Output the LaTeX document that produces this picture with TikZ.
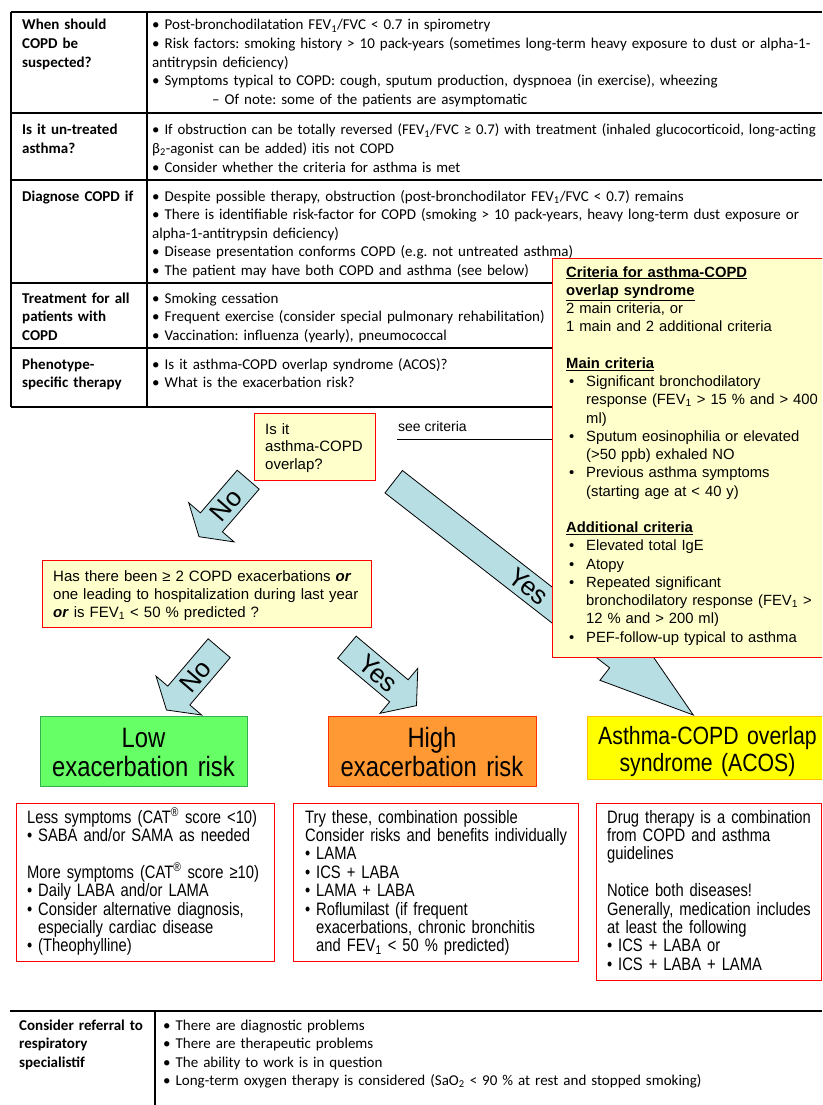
\documentclass[tikz,border=0pt]{standalone}
\usepackage{fontspec}
\setmainfont{Liberation Sans}
\newfontfamily\tabfont{Carlito}
\newfontfamily\narrowfont[FakeStretch=0.85]{Liberation Sans}
\newfontfamily\narrowerfont[FakeStretch=0.82]{Liberation Sans}
\usetikzlibrary{calc}
\definecolor{qyellow}{HTML}{FFFFCC}
\definecolor{arrowblue}{HTML}{B7DEE3}
\definecolor{lowgreen}{HTML}{66FF66}
\definecolor{lowborder}{HTML}{33B050}
\definecolor{highorange}{HTML}{FF9933}
\definecolor{highborder}{HTML}{FF3300}
\definecolor{acosyellow}{HTML}{FFFF00}
\definecolor{acosborder}{HTML}{FFC000}
\definecolor{boxred}{HTML}{FF0000}
\newcommand{\bbul}{\makebox[11pt][l]{•}}
\newcommand{\bind}{\hspace*{11pt}}
\newcommand{\cbul}{\makebox[20pt][l]{\hspace*{3pt}•}}
\newcommand{\cind}{\hspace*{20pt}}
\newcommand{\blockarrow}[6]{%
  \coordinate (#2-neck) at ($(#2)!#5!(#1)$);
  \filldraw[barrow] ($(#1)!#3!90:(#2)$) -- ($(#2-neck)!#3!90:(#2)$) -- ($(#2-neck)!#4!90:(#2)$) -- (#2)
     -- ($(#2-neck)!#4!-90:(#2)$) -- ($(#2-neck)!#3!-90:(#2)$) -- ($(#1)!#3!-90:(#2)$) -- cycle;
  \path (#1) -- (#2) node[alabel, pos=0.45] (#2-label) {#6};
}
\tikzset{
  tabline/.style={line width=1.4pt, black},
  tabhead/.style={anchor=base west, inner sep=0pt, text width=128pt, align=left, font=\tabfont\bfseries\fontsize{15}{18.6}\selectfont},
  tabbody/.style={anchor=base west, inner sep=0pt, text width=700pt, align=left, font=\tabfont\fontsize{15}{18.6}\selectfont},
  qbox/.style={draw=boxred, fill=qyellow, line width=1pt, inner sep=0pt, anchor=north west},
  wbox/.style={draw=boxred, fill=white, line width=1pt, inner sep=0pt, anchor=north west},
  qtext/.style={anchor=base west, inner sep=0pt, align=left, text width=330pt, font=\fontsize{15}{18.2}\selectfont},
  btext/.style={anchor=base west, inner sep=0pt, align=left, text width=280pt, font=\narrowerfont\fontsize{18}{18.4}\selectfont},
  barrow/.style={draw=black, fill=arrowblue, line width=0.8pt, line join=miter},
  alabel/.style={sloped, inner sep=0pt, font=\fontsize{26}{26}\selectfont},
  riskbox/.style={line width=1.2pt, inner sep=0pt, anchor=north west},
  risktext/.style={anchor=base, inner sep=0pt, align=center, text width=260pt, font=\narrowfont\fontsize{28}{29}\selectfont},
}
\begin{document}
\frenchspacing
\begin{tikzpicture}[x=1pt,y=-1pt]
\useasboundingbox (0,0) rectangle (822,1105);
\clip (0,0) rectangle (822,1105);
% ---------- top table ----------
\foreach \yy in {12,113,180,283,348,407} \draw[tabline] (11,\yy) -- (822,\yy);
\draw[tabline] (11,12) -- (11,407);
\draw[tabline] (147,12) -- (147,407);
\node[tabhead] (h1) at (22,30) {When should\\COPD be\\suspected?};
\node[tabbody] (t1) at (152,30) {• Post-bronchodilatation FEV\textsubscript{1}/FVC < 0.7 in spirometry\\
• Risk factors: smoking history > 10 pack-years (sometimes long-term heavy exposure to dust or alpha-1-\\
antitrypsin deficiency)\\
• Symptoms typical to COPD: cough, sputum production, dyspnoea (in exercise), wheezing\\
\hspace*{60pt}– Of note: some of the patients are asymptomatic};
\node[tabhead] (h2) at (22,135) {Is it un-treated\\asthma?};
\node[tabbody, font=\tabfont\fontsize{14.8}{18.6}\selectfont] (t2) at (152,135) {• If obstruction can be totally reversed (FEV\textsubscript{1}/FVC ≥ 0.7) with treatment (inhaled glucocorticoid, long-acting\\
β\textsubscript{2}-agonist can be added) itis not COPD\\
• Consider whether the criteria for asthma is met};
\node[tabhead] (h3) at (22,201) {Diagnose COPD if};
\node[tabbody] (t3) at (152,201) {• Despite possible therapy, obstruction (post-bronchodilator FEV\textsubscript{1}/FVC < 0.7) remains\\
• There is identifiable risk-factor for COPD (smoking > 10 pack-years, heavy long-term dust exposure or\\
alpha-1-antitrypsin deficiency)\\
• Disease presentation conforms COPD (e.g. not untreated asthma)\\
• The patient may have both COPD and asthma (see below)};
\node[tabhead] (h4) at (22,303) {Treatment for all\\patients with\\COPD};
\node[tabbody] (t4) at (152,303) {• Smoking cessation\\
• Frequent exercise (consider special pulmonary rehabilitation)\\
• Vaccination: influenza (yearly), pneumococcal};
\node[tabhead] (h5) at (22,369) {Phenotype-\\specific therapy};
\node[tabbody] (t5) at (152,369) {• Is it asthma-COPD overlap syndrome (ACOS)?\\
• What is the exacerbation risk?};
% ---------- arrows ----------
\coordinate (yesB-t) at (393.7,481.7);
\coordinate (yesB-p) at (693.3,715);
\blockarrow{yesB-t}{yesB-p}{14.2pt}{30pt}{95pt}{Yes}
\coordinate (noA-t) at (248.2,479.7);
\coordinate (noA-p) at (199,536.7);
\blockarrow{noA-t}{noA-p}{14.5pt}{30pt}{19pt}{No}
\coordinate (noB-t) at (219.2,648.2);
\coordinate (noB-p) at (166.5,710);
\blockarrow{noB-t}{noB-p}{14.5pt}{30pt}{19pt}{No}
\coordinate (yesA-t) at (346.9,647.2);
\coordinate (yesA-p) at (416.5,705.6);
\blockarrow{yesA-t}{yesA-p}{14.4pt}{29.4pt}{23pt}{Yes}
% ---------- criteria box ----------
\node[qbox, minimum width=290pt, minimum height=399pt] (crit) at (552,258) {};
\node[qtext, text width=260pt, font=\fontsize{14.8}{18.25}\selectfont] (crittext) at (566,277) {\textbf{\underline{Criteria for asthma-COPD}}\\
\textbf{\underline{overlap syndrome}}\\
2 main criteria, or\\
1 main and 2 additional criteria\\
\mbox{}\\
\textbf{\underline{Main criteria}}\\
\cbul Significant bronchodilatory\\
\cind response (FEV\textsubscript{1} > 15 \% and > 400\\
\cind ml)\\
\cbul Sputum eosinophilia or elevated\\
\cind (>50 ppb) exhaled NO\\
\cbul Previous asthma symptoms\\
\cind (starting age at < 40 y)\\
\mbox{}\\
\textbf{\underline{Additional criteria}}\\
\cbul Elevated total IgE\\
\cbul Atopy\\
\cbul Repeated significant\\
\cind bronchodilatory response (FEV\textsubscript{1} >\\
\cind 12 \% and > 200 ml)\\
\cbul PEF-follow-up typical to asthma};
% ---------- question boxes ----------
\node[anchor=base west, inner sep=0pt, font=\fontsize{14}{16}\selectfont] (seecrit) at (398,431.5) {see criteria};
\coordinate (seeline) at (397,439);
\draw[line width=0.8pt] (seeline) -- (seeline -| crit.west);
\node[qbox, minimum width=121pt, minimum height=67pt] (q1) at (254,413) {};
\node[qtext, text width=110pt, font=\fontsize{15}{17.7}\selectfont] (q1text) at (265,434) {Is it\\asthma-COPD\\overlap?};
\node[qbox, minimum width=329pt, minimum height=67pt] (q2) at (42,560) {};
\node[qtext] (q2text) at (53,581) {Has there been ≥ 2 COPD exacerbations \textbf{\textit{or}}\\
one leading to hospitalization during last year\\
\textbf{\textit{or}} is FEV\textsubscript{1} < 50 \% predicted ?};
% ---------- risk boxes ----------
\node[riskbox, draw=lowborder, fill=lowgreen, minimum width=207pt, minimum height=70pt] (low) at (40,716) {};
\node[risktext] (lowtext) at (143.5,747) {Low\\exacerbation risk};
\node[riskbox, draw=highborder, fill=highorange, minimum width=208pt, minimum height=70pt] (high) at (328,716) {};
\node[risktext] (hightext) at (432,747) {High\\exacerbation risk};
\node[riskbox, draw=acosborder, fill=acosyellow, minimum width=241pt, minimum height=63pt] (acos) at (587,716) {};
\node[risktext, font=\narrowfont\fontsize{25}{27}\selectfont] (acostext) at (707.5,744) {Asthma-COPD overlap\\syndrome (ACOS)};
% ---------- therapy boxes ----------
\node[wbox, minimum width=258pt, minimum height=158pt] (th1) at (16,803) {};
\node[btext] (th1text) at (27,823) {Less symptoms (CAT\textsuperscript{®} score <10)\\
\bbul SABA and/or SAMA as needed\\
\mbox{}\\
More symptoms (CAT\textsuperscript{®} score ≥10)\\
\bbul Daily LABA and/or LAMA\\
\bbul Consider alternative diagnosis,\\
\bind especially cardiac disease\\
\bbul (Theophylline)};
\node[wbox, minimum width=285pt, minimum height=158pt] (th2) at (293,803) {};
\node[btext] (th2text) at (305,823) {Try these, combination possible\\
Consider risks and benefits individually\\
\bbul LAMA\\
\bbul ICS + LABA\\
\bbul LAMA + LABA\\
\bbul Roflumilast (if frequent\\
\bind exacerbations, chronic bronchitis\\
\bind and FEV\textsubscript{1} < 50 \% predicted)};
\node[wbox, minimum width=225pt, minimum height=177pt] (th3) at (596,803) {};
\node[btext] (th3text) at (607,823) {Drug therapy is a combination\\
from COPD and asthma\\
guidelines\\
\mbox{}\\
Notice both diseases!\\
Generally, medication includes\\
at least the following\\
\bbul ICS + LABA or\\
\bbul ICS + LABA + LAMA};
% ---------- bottom table ----------
\draw[tabline] (10,1011) -- (822,1011);
\draw[tabline] (155,1011) -- (155,1105);
\node[tabhead] (h6) at (19,1030) {Consider referral to\\respiratory\\specialistif};
\node[tabbody] (t6) at (163,1030) {• There are diagnostic problems\\
• There are therapeutic problems\\
• The ability to work is in question\\
• Long-term oxygen therapy is considered (SaO\textsubscript{2} < 90 \% at rest and stopped smoking)};
\end{tikzpicture}
\end{document}
